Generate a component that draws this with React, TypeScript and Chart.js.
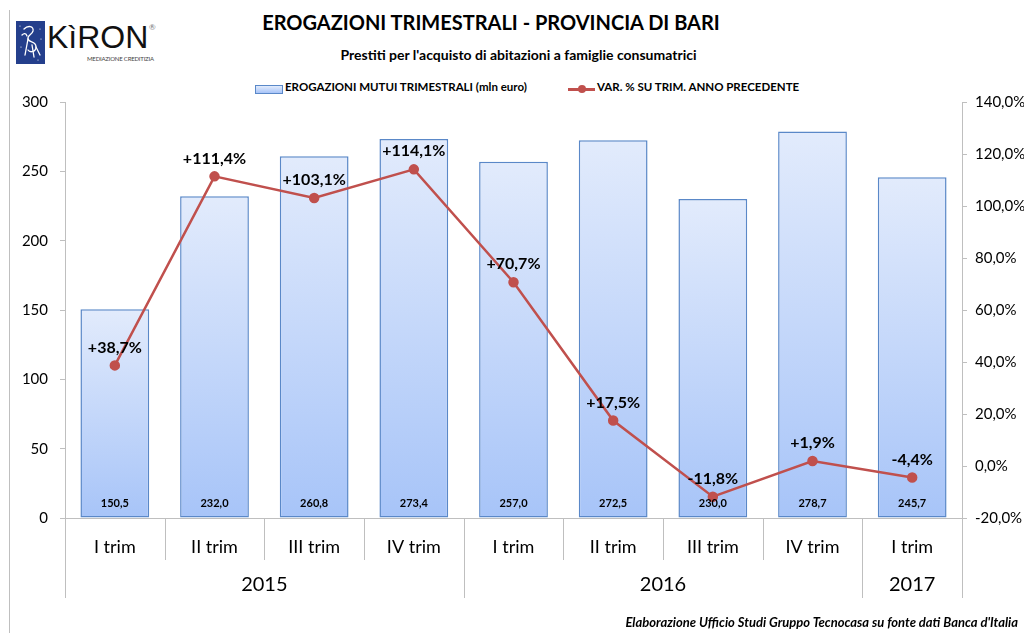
import React, { useEffect, useRef } from "react";
import { Chart, registerables } from "chart.js";

Chart.register(...registerables);

const quarters = ["I trim", "II trim", "III trim", "IV trim", "I trim", "II trim", "III trim", "IV trim", "I trim"];
const years = ["2015", "2016", "2017"];
const yearSpans = [4, 4, 1];
const erogazioni = [150.5, 232.0, 260.8, 273.4, 257.0, 272.5, 230.0, 278.7, 245.7];
const variazione = [38.7, 111.4, 103.1, 114.1, 70.7, 17.5, -11.8, 1.9, -4.4];
const leftMin = 0;
const leftMax = 300;
const leftStep = 50;
const rightMin = -20;
const rightMax = 140;
const rightStep = 20;

const FONT = "Lato, 'DejaVu Sans', sans-serif";

const fmt = (v: number) => v.toFixed(1).replace(".", ",");
const fmtSigned = (v: number) => (v >= 0 ? "+" : "") + fmt(v) + "%";

const overlayPlugin = {
  id: "overlay",
  afterDatasetsDraw(chart: any) {
    const ctx = chart.ctx;
    const x = chart.scales.x;
    const y1 = chart.scales.y1;
    const y = chart.scales.y;
    const area = chart.chartArea;
    const n = quarters.length;
    const half = (x.getPixelForValue(1) - x.getPixelForValue(0)) / 2;
    ctx.save();
    const longIdx = new Set<number>();
    let acc = 0;
    longIdx.add(0);
    yearSpans.forEach((s) => {
      acc += s;
      longIdx.add(acc);
    });
    ctx.strokeStyle = "#bfbfbf";
    ctx.lineWidth = 1;
    for (let i = 0; i <= n; i++) {
      const bx = Math.round(i < n ? x.getPixelForValue(i) - half : x.getPixelForValue(n - 1) + half) + 0.5;
      ctx.beginPath();
      ctx.moveTo(bx, area.bottom);
      ctx.lineTo(bx, area.bottom + (longIdx.has(i) ? 80 : 42));
      ctx.stroke();
    }
    ctx.fillStyle = "#000";
    ctx.font = `20px ${FONT}`;
    ctx.textAlign = "center";
    ctx.textBaseline = "middle";
    let start = 0;
    years.forEach((yr, k) => {
      const s = yearSpans[k];
      const cx = (x.getPixelForValue(start) + x.getPixelForValue(start + s - 1)) / 2;
      ctx.fillText(yr, cx, area.bottom + 67);
      start += s;
    });
    ctx.font = `bold 11px ${FONT}`;
    erogazioni.forEach((v, i) => {
      ctx.fillText(fmt(v), x.getPixelForValue(i), y.getPixelForValue(0) - 15);
    });
    ctx.font = `bold 16px ${FONT}`;
    variazione.forEach((v, i) => {
      ctx.fillText(fmtSigned(v), x.getPixelForValue(i), y1.getPixelForValue(v) - 18);
    });
    ctx.restore();
  },
};

export default function App() {
  const ref = useRef<HTMLCanvasElement | null>(null);
  useEffect(() => {
    if (!ref.current) return;
    const chart = new Chart(ref.current, {
      type: "bar",
      data: {
        labels: quarters,
        datasets: [
          {
            type: "line",
            label: "VAR. % SU TRIM. ANNO PRECEDENTE",
            data: variazione,
            yAxisID: "y1",
            borderColor: "#c0504d",
            backgroundColor: "#c0504d",
            borderWidth: 2.5,
            pointRadius: 4,
            pointBackgroundColor: "#c0504d",
            pointBorderColor: "#c0504d",
            order: 0,
            tension: 0,
          } as any,
          {
            type: "bar",
            label: "EROGAZIONI MUTUI TRIMESTRALI (mln euro)",
            data: erogazioni,
            yAxisID: "y",
            backgroundColor: (c: any) => {
              const ch = c.chart;
              if (!ch.chartArea || c.raw == null) return "#c6d9f9";
              const top = ch.scales.y.getPixelForValue(c.raw);
              const bottom = ch.scales.y.getPixelForValue(0);
              const g = ch.ctx.createLinearGradient(0, top, 0, bottom);
              g.addColorStop(0, "#e2ebfc");
              g.addColorStop(1, "#a7c4f8");
              return g;
            },
            borderColor: "#5a88c8",
            borderWidth: 1.5,
            borderSkipped: false,
            barPercentage: 0.69,
            categoryPercentage: 1,
            order: 1,
          } as any,
        ],
      },
      options: {
        animation: false,
        responsive: false,
        maintainAspectRatio: false,
        layout: { padding: { top: 8, left: 0, right: 0, bottom: 0 } },
        plugins: {
          legend: { display: false },
          title: { display: false },
          tooltip: { enabled: false },
        },
        scales: {
          x: {
            grid: { display: false, drawTicks: false },
            border: { display: true, color: "#bfbfbf" },
            ticks: {
              color: "#000",
              font: { family: FONT, size: 18 },
              padding: 18,
              maxRotation: 0,
              autoSkip: false,
            },
            afterFit: (s: any) => {
              s.height = 115;
            },
          },
          y: {
            position: "left",
            min: leftMin,
            max: leftMax,
            ticks: {
              stepSize: leftStep,
              color: "#000",
              font: { family: FONT, size: 15 },
              padding: 12,
            },
            grid: { drawOnChartArea: false, drawTicks: true, tickLength: 5, color: "#bfbfbf" },
            border: { display: true, color: "#bfbfbf" },
            afterFit: (s: any) => {
              s.width = 65;
            },
          },
          y1: {
            position: "right",
            min: rightMin,
            max: rightMax,
            ticks: {
              stepSize: rightStep,
              color: "#000",
              font: { family: FONT, size: 15 },
              padding: 8,
              callback: (v: any) => fmt(Number(v)) + "%",
            },
            grid: { drawOnChartArea: false, drawTicks: true, tickLength: 5, color: "#bfbfbf" },
            border: { display: true, color: "#bfbfbf" },
            afterFit: (s: any) => {
              s.width = 62;
            },
          },
        },
      },
      plugins: [overlayPlugin],
    });
    return () => chart.destroy();
  }, []);

  return (
    <div style={{ position: "absolute", left: 0, top: 0, width: 1024, height: 633, background: "#fff", overflow: "hidden", fontFamily: FONT }}>
      <div style={{ position: "absolute", left: 9, top: 10, width: 1, height: 623, background: "#bfbfbf" }} />
      <svg style={{ position: "absolute", left: 16, top: 21 }} width={29} height={43} viewBox="0 0 29 43">
        <rect x={0} y={0} width={29} height={43} fill="#243f8c" />
        <g fill="none" stroke="#ffffff" strokeWidth={1.3} strokeLinecap="round">
          <path d="M8 8 C12 4, 18 5, 17 10 C16 14, 11 14, 12 18 C13 22, 20 20, 20 26 C20 31, 14 32, 12 29" />
          <path d="M12 18 L9 34 M16 24 L18 36 M20 26 L24 34" />
          <path d="M6 14 C8 12, 10 12, 11 15" />
        </g>
        <g fill="#ffffff">
          <circle cx={4} cy={5} r={0.6} />
          <circle cx={24} cy={8} r={0.6} />
          <circle cx={25} cy={18} r={0.6} />
          <circle cx={5} cy={26} r={0.6} />
          <circle cx={22} cy={39} r={0.6} />
        </g>
      </svg>
      <div style={{ position: "absolute", left: 47, top: 17, fontSize: 32, lineHeight: "40px", color: "#111", fontFamily: "'Liberation Sans', sans-serif", letterSpacing: 0 }}>
        KìRON
      </div>
      <div style={{ position: "absolute", left: 149, top: 22, fontSize: 8, color: "#777" }}>®</div>
      <div style={{ position: "absolute", left: 87, top: 55, fontSize: 6, color: "#444", whiteSpace: "nowrap", letterSpacing: -0.2 }}>
        MEDIAZIONE CREDITIZIA
      </div>
      <div style={{ position: "absolute", left: 0, width: 982, top: 10, textAlign: "center", fontWeight: 700, fontSize: 20, whiteSpace: "nowrap", color: "#000" }}>
        EROGAZIONI TRIMESTRALI - PROVINCIA DI BARI
      </div>
      <div style={{ position: "absolute", left: 0, width: 1037, top: 46, textAlign: "center", fontWeight: 700, fontSize: 14, whiteSpace: "nowrap", color: "#000" }}>
        Prestiti per l'acquisto di abitazioni a famiglie consumatrici
      </div>
      <div style={{ position: "absolute", left: 255, top: 85, width: 26, height: 7, border: "1px solid #5a88c8", background: "linear-gradient(#e2ebfc, #a7c4f8)" }} />
      <div style={{ position: "absolute", left: 285, top: 80, fontSize: 11.5, fontWeight: 700, whiteSpace: "nowrap", color: "#000" }}>
        EROGAZIONI MUTUI TRIMESTRALI (mln euro)
      </div>
      <div style={{ position: "absolute", left: 568, top: 88, width: 27, height: 2.5, background: "#c0504d" }} />
      <div style={{ position: "absolute", left: 578, top: 85, width: 8, height: 8, borderRadius: 4, background: "#c0504d" }} />
      <div style={{ position: "absolute", left: 597, top: 80, fontSize: 11.5, fontWeight: 700, whiteSpace: "nowrap", color: "#000" }}>
        VAR. % SU TRIM. ANNO PRECEDENTE
      </div>
      <canvas ref={ref} width={1024} height={552} style={{ position: "absolute", left: 0, top: 81, width: 1024, height: 552 }} />
      <div style={{ position: "absolute", right: 6, top: 614, fontSize: 13, fontWeight: 700, fontStyle: "italic", whiteSpace: "nowrap", color: "#000" }}>
        Elaborazione Ufficio Studi Gruppo Tecnocasa su fonte dati Banca d'Italia
      </div>
    </div>
  );
}
